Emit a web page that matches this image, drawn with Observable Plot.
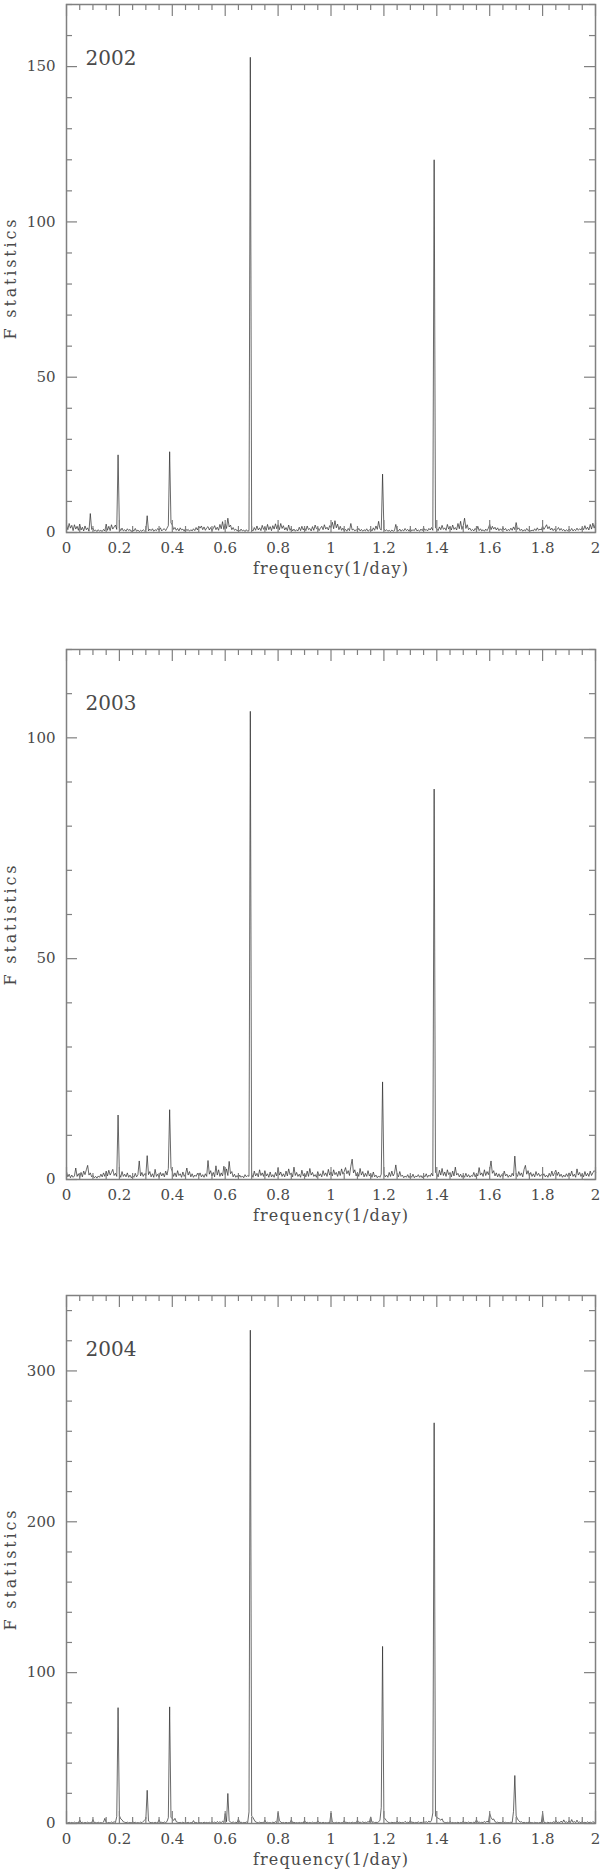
<!DOCTYPE html>
<html>
<head>
<meta charset="utf-8">
<script src="https://cdn.jsdelivr.net/npm/d3@7"></script>
<script src="https://cdn.jsdelivr.net/npm/@observablehq/plot@0.6"></script>
<style>
  html, body { margin: 0; padding: 0; background: #fff; }
  #chart svg { display: block; }
</style>
</head>
<body>
<div id="chart"></div>
<script>
// frequency grid (1/day): value i is at freqStart + i * freqStep
const freqStart = 0;
const freqStep = 0.005;

// F statistics, 2002 (401 samples, 0 .. 2 1/day)
const F2002 = [
  2.6,0.9,2.9,1.4,2.3,0.6,2.5,1.1,2.0,0.7, 2.7,0.8,1.7,0.5,2.1,0.9,1.5,0.4,6.1,1.0,
  1.4,0.5,0.8,0.3,0.9,0.4,0.7,0.3,1.0,0.5, 2.7,0.7,2.0,0.6,2.5,1.1,1.8,2.4,1.0,25.0,
  1.5,0.6,1.4,0.5,0.9,0.4,1.2,0.6,1.0,0.3, 0.9,0.5,1.3,0.4,0.8,0.3,0.7,0.4,0.9,0.5,
  0.8,5.4,0.5,1.1,0.6,1.2,0.4,0.9,0.6,1.3, 0.7,1.5,0.5,1.0,1.2,0.6,1.4,2.2,26.0,3.1,
  2.4,1.0,1.6,0.7,1.3,0.5,1.5,0.8,1.1,0.4, 1.3,0.6,1.0,0.4,0.9,0.5,1.2,0.6,1.6,0.8,
  2.0,1.4,2.1,0.9,1.8,0.7,1.5,1.9,0.8,1.6, 0.6,1.3,2.2,0.9,1.7,0.7,2.6,1.2,3.5,1.0,
  2.8,1.3,4.6,1.8,2.4,0.9,1.6,0.7,1.1,0.5, 0.9,0.4,1.1,0.5,0.8,0.3,0.9,0.4,0.6,153.0,
  1.0,0.5,1.6,0.7,2.1,0.8,1.5,0.6,2.3,1.0, 1.8,0.7,2.6,0.9,1.9,0.6,2.2,1.1,2.8,1.2,
  2.5,0.9,2.9,1.3,2.2,0.8,1.6,0.6,2.4,0.7, 1.4,0.5,1.1,0.4,0.9,0.5,1.7,0.6,2.0,0.8,
  1.5,0.6,2.1,0.9,1.3,0.5,1.9,0.7,2.4,1.2, 1.6,0.6,1.4,2.0,0.9,2.5,1.1,1.7,0.8,2.2,
  1.6,3.3,1.2,3.8,1.5,2.7,0.9,2.0,0.7,1.4, 0.5,1.0,0.4,1.3,0.6,2.9,0.8,1.1,0.5,0.9,
  0.6,1.3,0.5,1.0,0.4,0.9,0.5,1.2,0.4,0.8, 1.1,0.5,1.5,0.7,2.1,1.0,3.6,1.2,0.8,18.8,
  1.2,0.5,0.9,0.4,0.7,0.3,0.8,0.4,0.6,2.6, 0.7,0.5,1.1,0.4,0.9,0.5,1.3,0.6,1.0,0.4,
  1.2,0.5,0.9,0.6,1.4,0.5,0.8,0.4,1.1,0.6, 1.5,0.7,1.0,0.5,1.3,0.8,1.6,0.7,120.0,1.5,
  1.2,0.6,1.8,0.9,2.3,1.0,1.5,0.7,2.6,1.1, 1.9,0.8,2.4,1.0,1.6,0.8,2.9,1.2,3.6,1.0,
  2.2,4.6,1.3,2.5,0.9,1.4,0.6,1.0,0.5,1.3, 0.7,2.0,0.6,1.2,0.5,0.9,0.4,1.1,0.6,1.4,
  2.6,0.9,2.0,1.1,1.7,0.8,1.5,0.6,1.2,0.7, 1.6,0.8,1.3,0.5,1.0,0.6,1.4,0.7,1.8,0.9,
  3.2,1.0,1.5,0.6,1.1,0.4,0.9,0.5,1.3,0.6, 1.0,0.4,0.8,0.5,1.2,0.6,1.5,0.7,1.1,0.8,
  2.1,1.0,1.7,2.5,1.2,1.9,0.8,1.4,0.6,1.2, 0.5,1.0,1.6,0.7,1.3,0.6,1.0,0.4,0.9,0.5,
  1.1,0.6,1.3,0.5,1.0,0.6,1.4,0.7,1.2,0.8, 1.6,0.9,2.2,1.0,1.7,0.8,2.6,1.1,3.0,1.4,
  2.8
];

// F statistics, 2003
const F2003 = [
  1.8,0.6,1.2,0.4,1.0,0.5,0.8,2.6,0.7,1.3, 0.5,1.6,0.6,1.9,1.1,2.2,3.2,1.0,1.5,0.6,
  0.9,0.4,0.7,0.3,0.8,0.5,1.2,0.6,1.5,0.7, 1.9,0.8,2.1,1.0,1.6,2.3,0.9,1.4,0.7,14.6,
  1.3,0.5,1.8,0.7,1.2,0.6,1.5,0.5,1.0,0.4, 0.8,0.5,1.4,0.6,1.1,4.2,0.8,1.6,0.7,1.3,
  0.9,5.4,1.1,1.8,0.6,1.3,0.5,2.3,0.7,1.2, 0.5,1.6,0.8,1.4,0.6,1.9,1.0,2.5,15.8,2.6,
  1.8,0.7,1.5,0.6,2.0,0.9,1.3,0.5,1.7,0.7, 1.2,2.6,1.0,1.8,0.6,1.3,0.5,1.0,0.7,1.4,
  0.8,1.5,0.6,1.1,0.5,1.3,0.7,4.3,1.2,2.0, 0.8,1.6,0.6,3.1,1.0,2.2,0.7,1.5,0.8,3.0,
  1.1,2.4,0.9,4.1,1.3,1.8,0.6,1.2,0.5,0.9, 0.4,1.0,0.5,0.8,0.4,1.1,0.6,0.9,0.7,106.0,
  1.2,0.5,1.9,0.8,1.4,0.6,2.2,0.9,1.5,0.7, 2.0,0.8,1.3,0.5,1.7,0.6,1.1,0.5,1.6,0.8,
  2.6,1.0,1.7,0.7,1.3,0.6,1.9,0.8,2.4,1.1, 1.5,0.6,2.8,0.9,1.6,0.7,1.2,0.5,2.1,0.8,
  1.4,0.6,1.9,0.7,2.5,1.0,1.6,0.7,1.1,0.5, 1.8,0.8,1.3,0.6,2.0,0.9,1.5,0.7,2.3,1.0,
  1.7,0.8,2.2,1.1,1.6,0.7,1.9,0.9,2.4,1.2, 1.8,2.7,1.3,2.0,0.9,3.0,4.6,1.5,2.2,0.8,
  1.6,0.7,2.5,1.0,1.8,0.6,1.4,0.7,2.0,0.8, 1.3,0.5,1.7,0.6,1.0,0.4,0.8,0.5,1.2,22.1,
  1.3,0.6,1.0,0.5,1.6,0.7,1.9,0.8,1.4,3.3, 1.2,0.6,1.8,0.7,1.0,0.4,0.8,0.5,1.1,0.4,
  0.9,0.5,1.2,0.4,0.8,0.6,1.1,0.5,0.9,0.4, 1.0,0.6,1.3,0.5,1.0,0.7,1.4,0.8,88.4,1.6,
  1.3,0.6,2.1,1.0,2.5,0.9,1.7,0.7,2.2,1.1, 1.6,0.6,1.9,0.8,2.8,1.0,1.4,0.6,1.2,0.5,
  1.0,0.5,1.4,0.6,1.1,0.5,0.9,0.7,1.6,0.6, 1.3,0.8,2.7,1.0,1.5,0.7,2.2,0.9,1.8,1.1,
  2.3,4.2,1.4,2.0,0.8,1.5,0.6,1.3,0.5,1.1, 0.7,1.9,0.8,1.2,0.5,1.0,0.6,1.4,0.8,5.3,
  1.2,0.7,1.8,0.9,1.5,0.6,2.3,3.2,1.2,2.0, 0.8,1.6,0.7,1.3,0.6,1.8,0.9,1.4,0.7,1.1,
  0.8,1.3,0.6,1.0,0.5,1.4,0.7,1.9,0.8,1.5, 2.1,0.9,1.7,0.7,1.2,0.5,1.0,0.6,1.3,0.7,
  1.5,0.8,1.9,0.7,1.2,0.5,2.4,1.0,1.6,0.7, 1.3,0.6,1.8,0.8,1.4,0.7,1.9,0.9,1.5,2.0,
  1.7
];

// F statistics, 2004
const F2004 = [
  0.6,0.3,0.8,0.4,0.7,0.3,0.9,0.4,0.6,0.3, 2.4,0.5,0.8,0.3,0.7,0.4,0.9,0.3,0.6,0.4,
  2.6,0.5,0.7,0.3,0.8,0.4,0.6,0.3,0.9,3.4, 0.8,0.4,0.7,0.3,1.0,0.5,1.2,0.6,4.6,76.8,
  5.2,3.1,2.4,1.1,0.8,0.5,0.9,0.4,0.7,0.3, 1.3,0.5,0.8,0.4,0.6,0.3,0.9,0.5,1.4,2.2,
  3.0,22.0,1.6,0.8,0.5,0.7,0.3,0.8,0.4,0.6, 2.5,0.5,0.8,0.4,1.0,0.6,1.3,3.9,77.3,4.2,
  3.1,2.0,3.4,1.2,0.8,0.5,0.7,0.4,0.9,0.3, 0.7,0.4,0.8,0.3,0.6,0.4,1.9,0.4,0.7,0.3,
  0.8,0.4,0.6,0.3,0.9,0.5,0.7,0.3,0.8,0.4, 1.2,0.5,0.9,0.4,1.3,0.6,1.1,0.5,1.5,0.7,
  6.6,1.2,19.9,1.8,0.9,0.5,1.1,0.4,0.8,0.5, 3.0,0.6,0.9,0.4,0.7,0.5,1.0,0.6,7.7,327.0,
  5.0,3.9,2.3,1.0,0.7,0.4,0.9,0.5,0.7,0.3, 2.2,0.5,0.8,0.4,0.6,0.3,0.9,0.5,1.2,0.6,
  7.3,2.0,0.9,0.4,0.7,0.3,0.8,0.4,0.6,0.3, 2.4,0.5,0.8,0.4,0.6,0.3,0.7,0.4,0.6,0.3,
  2.1,0.5,0.8,0.4,0.7,0.3,0.9,0.4,0.6,0.3, 1.8,0.5,0.7,0.3,0.8,0.4,0.6,0.3,0.7,0.4,
  7.0,0.9,0.6,0.3,0.8,0.4,0.7,0.3,0.6,0.4, 1.9,0.5,0.8,0.4,0.7,0.3,0.9,0.5,0.6,0.4,
  2.2,0.6,0.9,0.4,1.1,0.5,0.8,0.6,1.3,0.7, 4.4,0.8,1.0,0.5,0.8,0.6,1.2,2.0,10.6,117.4,
  4.0,3.0,1.8,0.9,0.6,0.4,0.8,0.5,0.7,0.3, 1.6,0.5,0.9,0.4,0.7,0.5,1.4,0.6,0.8,0.4,
  2.0,0.6,0.9,0.4,0.7,0.5,1.1,0.4,0.8,0.6, 1.5,0.7,1.2,0.6,1.6,0.8,2.1,7.0,265.6,5.0,
  4.0,3.5,3.0,2.2,3.1,1.0,0.7,0.4,0.8,0.3, 1.3,0.5,0.7,0.3,0.6,0.4,0.9,0.3,0.7,0.4,
  1.6,0.5,0.8,0.4,1.0,0.5,0.7,0.3,0.9,0.5, 2.5,0.6,1.0,0.5,0.8,0.6,1.3,0.7,1.6,0.8,
  6.6,4.0,2.6,3.0,1.2,0.7,0.9,0.5,0.7,0.4, 1.4,0.5,0.8,0.4,0.6,0.5,0.9,0.6,8.0,31.8,
  5.0,3.0,1.8,0.9,1.2,0.5,0.8,0.4,0.7,0.3, 1.5,0.4,0.6,0.3,0.8,0.4,0.6,0.3,0.7,0.4,
  7.0,0.8,0.6,0.3,0.9,0.4,0.7,0.3,1.2,0.5, 2.0,0.6,0.9,0.5,1.6,0.6,2.4,0.7,1.1,0.5,
  1.8,0.6,2.6,0.7,1.3,0.5,2.2,0.6,1.0,0.4, 1.5,0.5,0.8,0.4,1.1,0.5,0.9,0.4,1.3,0.6,
  1.0
];

// axis ticks
const xMajorTicks = [0, 0.2, 0.4, 0.6, 0.8, 1, 1.2, 1.4, 1.6, 1.8, 2];
const xMinorTicks = [0.05,0.1,0.15,0.25,0.3,0.35,0.45,0.5,0.55,0.65,0.7,0.75,0.85,0.9,0.95,
                     1.05,1.1,1.15,1.25,1.3,1.35,1.45,1.5,1.55,1.65,1.7,1.75,1.85,1.9,1.95];
const years = ["2002", "2003", "2004"];
const yMax = [170, 120, 350];
const yMajorTicks = [[0, 50, 100, 150], [0, 50, 100], [0, 100, 200, 300]];
const yMinorTicks = [
  [10,20,30,40,60,70,80,90,110,120,130,140,160,170],
  [10,20,30,40,60,70,80,90,110,120],
  [20,40,60,80,120,140,160,180,220,240,260,280,320,340]
];
const series = [F2002, F2003, F2004];
const xLabel = "frequency(1/day)";
const yLabel = "F statistics";

const layout = [
  {mt: 4, ph: 528, mb: 114},
  {mt: 3, ph: 530, mb: 113},
  {mt: 3, ph: 528, mb: 49}
];

const W = 600, ML = 66, MR = 5;
const PW = W - ML - MR;
const frameColor = "#808080";
const textColor = "#4a4a4a";
const fmt = d => String(+d.toFixed(1));

const container = document.getElementById("chart");

years.forEach((year, k) => {
  const {mt, ph, mb} = layout[k];
  const data = series[k].map((v, i) => ({f: freqStart + i * freqStep, F: v}));
  const plot = Plot.plot({
    width: W,
    height: mt + ph + mb,
    marginLeft: ML, marginRight: MR, marginTop: mt, marginBottom: mb,
    style: {fontFamily: "'DejaVu Serif', serif", fontSize: "15px", color: textColor, background: "#fff"},
    x: {domain: [0, 2]},
    y: {domain: [0, yMax[k]]},
    marks: [
      Plot.line(data, {x: "f", y: "F", stroke: "#2a2a2a", strokeWidth: 0.7}),
      // inward ticks: bottom & top
      Plot.tickX(xMajorTicks, {x: d => d, insetTop: ph - 12, stroke: frameColor, strokeWidth: 1.2}),
      Plot.tickX(xMinorTicks, {x: d => d, insetTop: ph - 6, stroke: frameColor, strokeWidth: 1.2}),
      Plot.tickX(xMajorTicks, {x: d => d, insetBottom: ph - 12, stroke: frameColor, strokeWidth: 1.2}),
      Plot.tickX(xMinorTicks, {x: d => d, insetBottom: ph - 6, stroke: frameColor, strokeWidth: 1.2}),
      // inward ticks: left & right
      Plot.tickY(yMajorTicks[k], {y: d => d, insetRight: PW - 11, stroke: frameColor, strokeWidth: 1.2}),
      Plot.tickY(yMinorTicks[k], {y: d => d, insetRight: PW - 6, stroke: frameColor, strokeWidth: 1.2}),
      Plot.tickY(yMajorTicks[k], {y: d => d, insetLeft: PW - 11, stroke: frameColor, strokeWidth: 1.2}),
      Plot.tickY(yMinorTicks[k], {y: d => d, insetLeft: PW - 6, stroke: frameColor, strokeWidth: 1.2}),
      Plot.frame({stroke: frameColor, strokeWidth: 1.5}),
      Plot.axisX({ticks: xMajorTicks, tickSize: 0, tickPadding: 10, tickFormat: fmt, label: null,
                  fontSize: 15, fill: textColor}),
      Plot.axisY({ticks: yMajorTicks[k], tickSize: 0, tickPadding: 11, tickFormat: fmt, label: null,
                  fontSize: 15, fill: textColor}),
      Plot.text([year], {text: d => d, frameAnchor: "top-left", textAnchor: "start", lineAnchor: "bottom",
                         dx: 19, dy: 60, fontSize: 20, fill: textColor}),
      Plot.text([xLabel], {text: d => d, frameAnchor: "bottom", textAnchor: "start", lineAnchor: "bottom",
                           dx: -78, dy: 41, fontSize: 16, fill: textColor}),
      Plot.text([yLabel], {text: d => d, frameAnchor: "left", textAnchor: "start", lineAnchor: "bottom",
                           rotate: -90, dx: -51, dy: 71, fontSize: 16, fill: textColor})
    ]
  });
  const svg = d3.select(plot);
  svg.selectAll("text").filter(function() { return this.textContent === xLabel; })
    .attr("textLength", 155).attr("lengthAdjust", "spacing");
  svg.selectAll("text").filter(function() { return this.textContent === yLabel; })
    .attr("textLength", 120).attr("lengthAdjust", "spacing");
  container.appendChild(plot);
});
</script>
</body>
</html>
